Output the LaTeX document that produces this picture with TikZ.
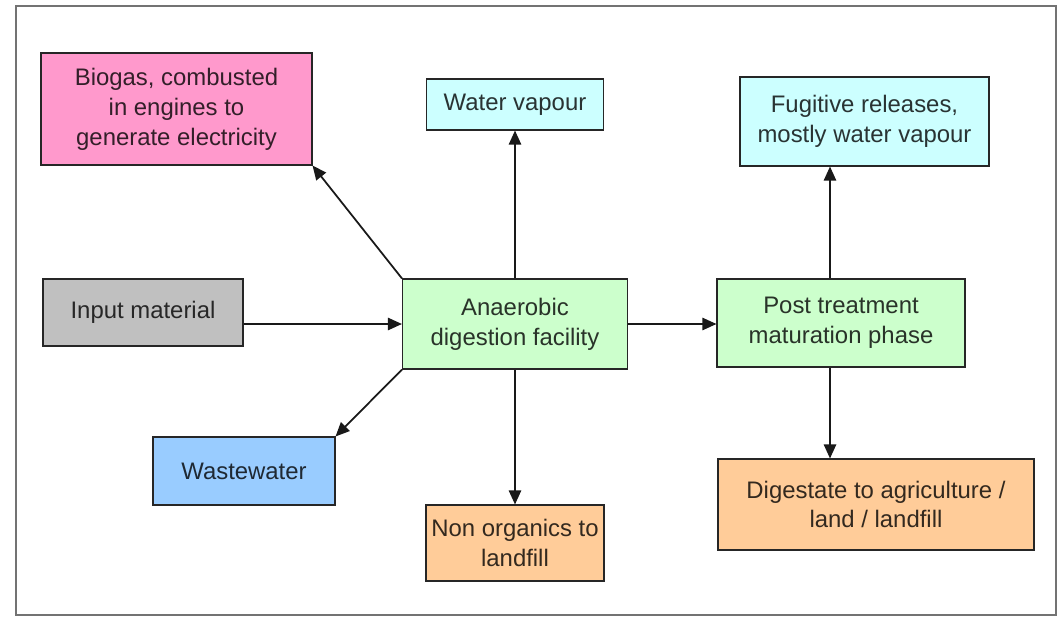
\documentclass[tikz,border=0pt]{standalone}
\usepackage{fontspec}
\setmainfont{Liberation Sans}
\usepackage{xcolor}
\usetikzlibrary{arrows.meta,positioning}

\definecolor{BoxPink}{HTML}{FF99CC}
\definecolor{BoxCyan}{HTML}{CCFFFF}
\definecolor{BoxGray}{HTML}{C0C0C0}
\definecolor{BoxGreen}{HTML}{CCFFCC}
\definecolor{BoxBlue}{HTML}{99CCFF}
\definecolor{BoxOrange}{HTML}{FFCC99}

\tikzset{
  box/.style={draw=black!85, line width=0.6pt, align=center, inner sep=2pt,
    font=\fontsize{13.6}{17}\selectfont},
  flow/.style={line width=1pt, black!90, -{Triangle[length=8pt,width=7pt]}}
}

\begin{document}
\begin{tikzpicture}
        \useasboundingbox (0,0) rectangle (21.24,12.34);
        \draw[black!55, line width=0.8pt] (0.32,0.04) rectangle (21.12,12.22);

        \node (biogas) [box, fill=BoxPink, text=BoxPink!20!black, minimum width=5.42cm, minimum height=2.24cm] at (3.53, 10.16) {Biogas, combusted\\in engines to\\generate electricity};
        \node (water) [box, fill=BoxCyan, text=BoxCyan!20!black, minimum width=3.54cm, minimum height=1.02cm] at (10.30, 10.25) {Water vapour};
        \node (fugitive) [box, fill=BoxCyan, text=BoxCyan!20!black, minimum width=4.98cm, minimum height=1.78cm] at (17.29, 9.91) {Fugitive releases,\\mostly water vapour};

        \node (input) [box, fill=BoxGray, text=BoxGray!20!black, minimum width=4.0cm, minimum height=1.34cm] at (2.86, 6.09) {Input material};
        \node (anaerobic) [box, fill=BoxGreen, text=BoxGreen!20!black, minimum width=4.5cm, minimum height=1.8cm] at (10.30, 5.86) {Anaerobic\\digestion facility};
        \node (post) [box, fill=BoxGreen, text=BoxGreen!20!black, minimum width=4.96cm, minimum height=1.76cm] at (16.82, 5.88) {Post treatment\\maturation phase};

        \node (waste) [box, fill=BoxBlue, text=BoxBlue!20!black, minimum width=3.64cm, minimum height=1.36cm] at (4.88, 2.92) {Wastewater};
        \node (nonorg) [box, fill=BoxOrange, text=BoxOrange!20!black, minimum width=3.56cm, minimum height=1.52cm] at (10.30, 1.48) {Non organics to\\landfill};
        \node (digestate) [box, fill=BoxOrange, text=BoxOrange!20!black, minimum width=6.32cm, minimum height=1.82cm] at (17.52, 2.25) {Digestate to agriculture /\\land / landfill};

        \draw[flow] (anaerobic.west -| input.east) -- (anaerobic.west);
        \draw[flow] (anaerobic.east) -- (anaerobic.east -| post.west);
        \draw[flow] (anaerobic.north) -- (water.south);
        \draw[flow] (anaerobic.south) -- (nonorg.north);
        \draw[flow] (anaerobic.north west) -- (biogas.south east);
        \draw[flow] (anaerobic.south west) -- (waste.north east);
        \draw[flow] ([xshift=-0.22cm]post.north) -- ([xshift=-0.22cm]post.north |- fugitive.south);
        \draw[flow] ([xshift=-0.22cm]post.south) -- ([xshift=-0.22cm]post.south |- digestate.north);
      \end{tikzpicture}
\end{document}
